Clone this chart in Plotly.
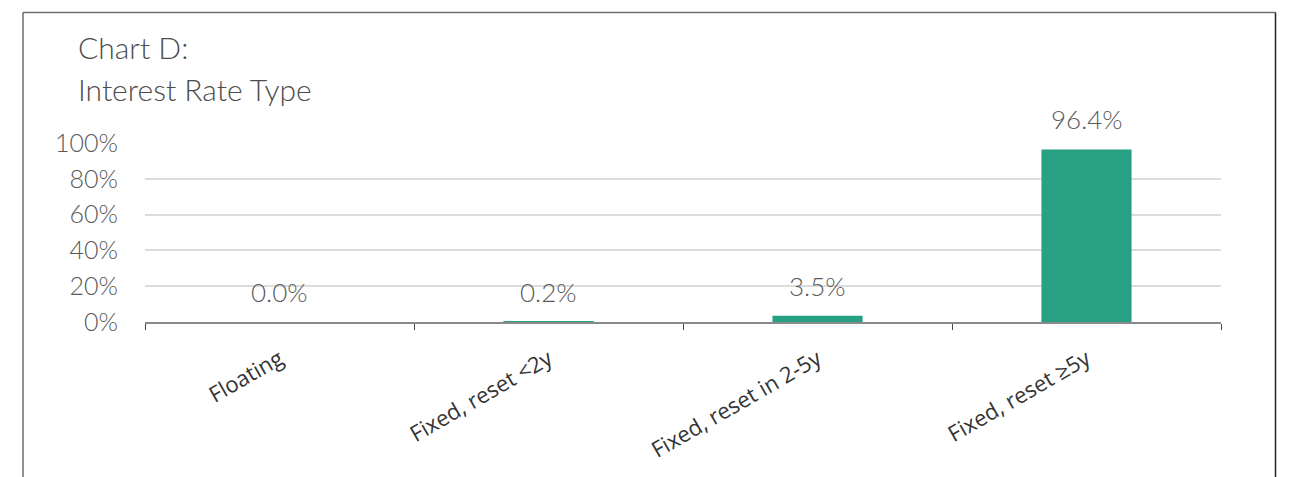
import plotly.graph_objects as go

categories = ["Floating", "Fixed, reset <2y", "Fixed, reset in 2-5y", "Fixed, reset ≥5y"]
values = [0.0, 0.2, 3.5, 96.4]
value_labels = ["0.0%", "0.2%", "3.5%", "96.4%"]
y_tickvals = [0, 20, 40, 60, 80, 100]
y_ticktext = ["0%", "20%", "40%", "60%", "80%", "100%"]

FONT = "Lato, 'Open Sans', sans-serif"
BAR_COLOR = "#27a083"

fig = go.Figure()
fig.add_trace(go.Bar(
    x=categories, y=values, width=0.335,
    marker=dict(color=BAR_COLOR, line=dict(width=0)),
    hoverinfo="skip",
))

for c, v, t in zip(categories, values, value_labels):
    fig.add_annotation(x=c, y=v, text=t, showarrow=False, yanchor="bottom",
                       yshift=12, font=dict(family=FONT, size=26, color="#595959", weight=300))

# title
fig.add_annotation(xref="paper", yref="paper", x=(76 - 145) / 1076, y=(322 - 47) / 179,
                   text="Chart D:", showarrow=False, xanchor="left", yanchor="middle",
                   font=dict(family=FONT, size=30, color="#4d4d4d", weight=300))
fig.add_annotation(xref="paper", yref="paper", x=(76 - 145) / 1076, y=(322 - 89) / 179,
                   text="Interest Rate Type", showarrow=False, xanchor="left", yanchor="middle",
                   font=dict(family=FONT, size=30, color="#4d4d4d", weight=300))

# frame
L = (23 - 145) / 1076
R = (1275.5 - 145) / 1076
T = (322 - 12.5) / 179
B = -2
frame = dict(color="#6e6e6e", width=1.5)
fig.add_shape(type="line", xref="paper", yref="paper", x0=L, x1=R, y0=T, y1=T, line=frame)
fig.add_shape(type="line", xref="paper", yref="paper", x0=L, x1=L, y0=T, y1=B, line=frame)
fig.add_shape(type="line", xref="paper", yref="paper", x0=R, x1=R, y0=T, y1=B, line=dict(color="#222", width=1.5))

fig.update_layout(
    width=1289, height=477,
    margin=dict(l=145, r=68, t=143, b=155),
    paper_bgcolor="white", plot_bgcolor="white",
    showlegend=False,
)
fig.update_xaxes(
    tickangle=-30, tickson="boundaries", ticks="outside", ticklen=6, tickcolor="#444",
    showline=True, linecolor="#8a8a8a", linewidth=1.5,
    tickfont=dict(family="'Open Sans', sans-serif", size=22, color="#333"),
    ticklabelstandoff=14,
    showgrid=False,
)
fig.update_yaxes(
    range=[0, 100], tickvals=y_tickvals, ticktext=y_ticktext,
    showgrid=True, gridcolor="#dcdcdc", gridwidth=1.5,
    zeroline=False, ticks="", ticklabelstandoff=26,
    tickfont=dict(family=FONT, size=25, color="#595959", weight=300),
)

fig.write_html("out.html")
